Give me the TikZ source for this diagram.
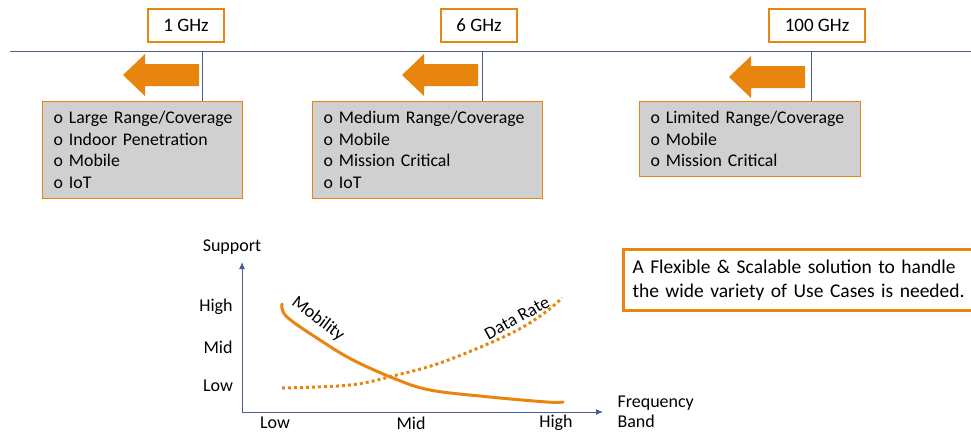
\documentclass[tikz,border=0pt]{standalone}
\usepackage{fontspec}
\setmainfont{Carlito}
\usetikzlibrary{arrows.meta}
\definecolor{org}{HTML}{E8850F}
\definecolor{lineblue}{HTML}{4A5A9A}
\definecolor{boxgray}{HTML}{D0D0D0}
\newcommand{\bitem}[1]{\mbox{o\ #1}}
\begin{document}
\begin{tikzpicture}[x=1pt,y=-1pt,
  freqbox/.style={draw=org,line width=1.2pt,fill=white,minimum width=#1,minimum height=33pt,inner sep=0pt,font=\fontsize{19}{22}\selectfont},
  infobox/.style={draw=org,line width=1.2pt,fill=boxgray,anchor=north west,inner xsep=11pt,inner ysep=0pt,align=left,font=\fontsize{17.8}{21.5}\selectfont},
  tick/.style={lineblue,line width=1pt},
  bigarrow/.style={fill=org,draw=none},
  axis/.style={lineblue,line width=1pt,-{Latex[length=7pt,width=6pt]}},
  lbl/.style={font=\fontsize{18}{21}\selectfont},
  curve/.style={org,line width=3pt}]
\useasboundingbox (0,0) rectangle (971,432);
% timeline
\coordinate (L0) at (10,51);
\coordinate (L1) at (971,51);
\draw[tick] (L0) -- (L1);
\node[freqbox=76pt] (f1) at (186,25.5) {1 GHz};
\node[freqbox=76pt] (f2) at (479,25.5) {6 GHz};
\node[freqbox=96pt] (f3) at (817,25.5) {100 GHz};
% info boxes
\node[infobox,minimum width=200pt,minimum height=97pt,text width=178pt] (b1) at (42,101)
 {\bitem{Large Range/Coverage}\\\bitem{Indoor Penetration}\\\bitem{Mobile}\\\bitem{IoT}};
\node[infobox,minimum width=230pt,minimum height=97pt,text width=208pt] (b2) at (312,101)
 {\bitem{Medium Range/Coverage}\\\bitem{Mobile}\\\bitem{Mission Critical}\\\bitem{IoT}};
\node[infobox,minimum width=221pt,minimum height=75pt,text width=199pt] (b3) at (639,101)
 {\bitem{Limited Range/Coverage}\\\bitem{Mobile}\\\bitem{Mission Critical}};
% ticks
\coordinate (t1) at (202,51);
\coordinate (t2) at (482,51);
\coordinate (t3) at (811,51);
\draw[tick] (t1) -- (t1 |- b1.north);
\draw[tick] (t2) -- (t2 |- b2.north);
\draw[tick] (t3) -- (t3 |- b3.north);
% block arrows
\foreach \tx/\cy in {199/75, 478/75, 805/77}{
  \fill[bigarrow] (\tx-76,\cy) -- (\tx-54,\cy-21) -- (\tx-54,\cy-11) -- (\tx,\cy-11)
    -- (\tx,\cy+11) -- (\tx-54,\cy+11) -- (\tx-54,\cy+21) -- cycle;
}
% graph
\coordinate (O) at (242,412);
\coordinate (Ytop) at (242,262);
\coordinate (Xend) at (603,412);
\draw[axis] (O) -- (Ytop);
\draw[axis] (O) -- (Xend);
\node[lbl] (sup) at (232,247) {Support};
\node[lbl] (yh) at (216,307) {High};
\node[lbl] (ym) at (218,347) {Mid};
\node[lbl] (yl) at (218,386) {Low};
\node[lbl] (xl) at (275,423) {Low};
\node[lbl] (xm) at (411,423) {Mid};
\node[lbl] (xh) at (556,423) {High};
\node[lbl,align=left,anchor=west,font=\fontsize{18}{20}\selectfont] (fb) at (614,412) {Frequency\\Band};
\draw[curve,line cap=round] plot[smooth,tension=0.6] coordinates {(282,304) (287,317) (323,342) (353,360) (393,378) (430,390) (490,397) (547,402) (563,402)};
\draw[curve,dash pattern=on 3pt off 3pt] plot[smooth,tension=0.6] coordinates {(282,388) (350,385) (397,375) (440,363) (490,343) (523,327) (547,311) (562,298)};
\node[lbl,rotate=-37,inner sep=0pt] (mob) at (318,319) {Mobility};
\node[lbl,rotate=29,inner sep=0pt] (dr) at (517,318) {Data Rate};
% note box
\node[draw=org,line width=3pt,fill=white,anchor=north west,minimum width=360pt,minimum height=61pt,inner xsep=9pt,align=left,text width=342pt,font=\fontsize{19.5}{24}\selectfont] (note) at (622,248)
 {A Flexible \& Scalable solution to handle\\the wide variety of Use Cases is needed.};
\end{tikzpicture}
\end{document}
